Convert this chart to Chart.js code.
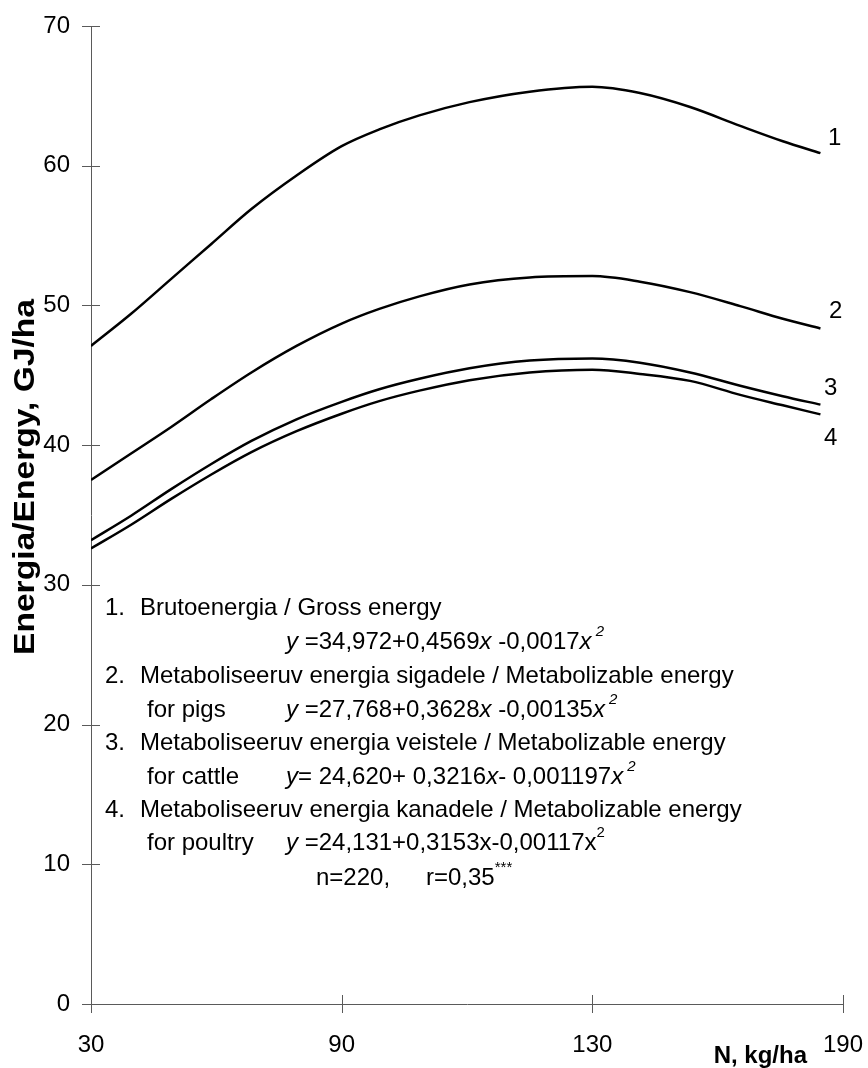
<!DOCTYPE html>
<html>
<head>
<meta charset="utf-8">
<title>Energia / Energy vs N</title>
<script src="https://cdn.jsdelivr.net/npm/chart.js@4.4.1/dist/chart.umd.min.js"></script>
<style>
  html, body { margin: 0; padding: 0; background: #fff; }
  canvas { display: block; }
</style>
</head>
<body>
<canvas id="energyChart" width="868" height="1068"></canvas>
<script>
// x axis: four evenly spaced ticks, the curves are placed by position along the axis (0..3)
const xTickLabels = ['30', '90', '130', '190'];
const xPos = [0, 0.16, 0.32, 0.48, 0.64, 0.82, 1.0, 1.15, 1.31, 1.51, 1.75, 2.0, 2.19, 2.39, 2.59, 2.76, 2.91];

// energy, GJ/ha
const grossEnergy = [47.1, 49.4, 51.9, 54.4, 56.9, 59.3, 61.4, 62.6, 63.6, 64.55, 65.3, 65.65, 65.2, 64.2, 62.85, 61.75, 60.9];
const mePigs      = [37.5, 39.4, 41.3, 43.3, 45.2, 47.1, 48.7, 49.75, 50.65, 51.5, 52.0, 52.1, 51.7, 50.95, 49.95, 49.05, 48.35];
const meCattle    = [33.2, 34.95, 36.85, 38.65, 40.3, 41.85, 43.1, 44.0, 44.75, 45.5, 46.05, 46.2, 45.9, 45.2, 44.25, 43.5, 42.9];
const mePoultry   = [32.6, 34.3, 36.15, 37.9, 39.5, 41.0, 42.25, 43.15, 43.9, 44.65, 45.2, 45.4, 45.1, 44.6, 43.6, 42.85, 42.2];

const seriesNames = ['1', '2', '3', '4'];
const yTicks = [0, 10, 20, 30, 40, 50, 60, 70];

const FONT = '"Liberation Sans", Arial, Helvetica, sans-serif';
const AXIS_COLOR = '#5a5a5a';

function toPoints(values) {
  return values.map((v, i) => ({ x: xPos[i], y: v }));
}

// curve number labels at the right end of the lines
const curveLabels = [
  { text: '1', x: 835, y: 138 },
  { text: '2', x: 836, y: 311 },
  { text: '3', x: 831, y: 388 },
  { text: '4', x: 831, y: 438 }
];

// legend / equation block, runs: [text, italic, superscript]
const noteLines = [
  { x: 105, y: 608, runs: [['1.', 0, 0]], x2: 140, runs2: [['Brutoenergia / Gross energy', 0, 0]] },
  { x: 286, y: 642, runs: [['y ', 1, 0], ['=34,972+0,4569', 0, 0], ['x', 1, 0], [' -0,0017', 0, 0], ['x', 1, 0], [' 2', 1, 1]] },
  { x: 105, y: 676, runs: [['2.', 0, 0]], x2: 140, runs2: [['Metaboliseeruv energia sigadele / Metabolizable energy', 0, 0]] },
  { x: 147, y: 710, runs: [['for pigs', 0, 0]], x2: 286, runs2: [['y ', 1, 0], ['=27,768+0,3628', 0, 0], ['x', 1, 0], [' -0,00135', 0, 0], ['x', 1, 0], [' 2', 1, 1]] },
  { x: 105, y: 743, runs: [['3.', 0, 0]], x2: 140, runs2: [['Metaboliseeruv energia veistele / Metabolizable energy', 0, 0]] },
  { x: 147, y: 777, runs: [['for cattle', 0, 0]], x2: 286, runs2: [['y', 1, 0], ['= 24,620+ 0,3216', 0, 0], ['x', 1, 0], ['- 0,001197', 0, 0], ['x', 1, 0], [' 2', 1, 1]] },
  { x: 105, y: 810, runs: [['4.', 0, 0]], x2: 140, runs2: [['Metaboliseeruv energia kanadele / Metabolizable energy', 0, 0]] },
  { x: 147, y: 843, runs: [['for poultry', 0, 0]], x2: 286, runs2: [['y ', 1, 0], ['=24,131+0,3153x-0,00117x', 0, 0], ['2', 0, 1]] },
  { x: 316, y: 878, runs: [['n=220,', 0, 0]], x2: 426, runs2: [['r=0,35', 0, 0], ['***', 0, 1]] }
];

function drawRuns(ctx, x, y, runs) {
  let cx = x;
  runs.forEach(([t, italic, sup]) => {
    const size = sup ? 15 : 24;
    ctx.font = (italic ? 'italic ' : '') + size + 'px ' + FONT;
    ctx.fillText(t, cx, sup ? y - 10 : y);
    cx += ctx.measureText(t).width;
  });
}

const decorPlugin = {
  id: 'decor',
  afterDraw(chart) {
    const ctx = chart.ctx;
    const xs = chart.scales.x;
    const ys = chart.scales.y;
    const area = chart.chartArea;

    ctx.save();
    // tick marks crossing the axes
    ctx.strokeStyle = AXIS_COLOR;
    ctx.lineWidth = 1;
    ys.ticks.forEach((t, i) => {
      const py = Math.round(ys.getPixelForTick(i)) + 0.5;
      ctx.beginPath();
      ctx.moveTo(area.left - 9, py);
      ctx.lineTo(area.left + 9, py);
      ctx.stroke();
    });
    xs.ticks.forEach((t, i) => {
      const px = Math.round(xs.getPixelForTick(i)) + 0.5;
      ctx.beginPath();
      ctx.moveTo(px, area.bottom - 9);
      ctx.lineTo(px, area.bottom + 9);
      ctx.stroke();
    });

    ctx.fillStyle = '#000';
    ctx.textBaseline = 'middle';
    ctx.textAlign = 'left';

    // curve numbers
    ctx.font = '24px ' + FONT;
    curveLabels.forEach(l => ctx.fillText(l.text, l.x - 7, l.y));

    // equations block
    noteLines.forEach(line => {
      drawRuns(ctx, line.x, line.y, line.runs);
      if (line.runs2) drawRuns(ctx, line.x2, line.y, line.runs2);
    });

    // axis titles
    ctx.font = 'bold 24px ' + FONT;
    ctx.textAlign = 'right';
    ctx.fillText('N, kg/ha', 807, 1056);

    // y title is a bit longer than plain bold text in the original
    ctx.font = 'bold 30px ' + FONT;
    ctx.translate(34, 477);
    ctx.rotate(-Math.PI / 2);
    ctx.scale(1.12, 1);
    ctx.textAlign = 'center';
    ctx.textBaseline = 'alphabetic';
    ctx.fillText('Energia/Energy, GJ/ha', 0, 0);
    ctx.restore();
  }
};

const datasets = [grossEnergy, mePigs, meCattle, mePoultry].map((vals, i) => ({
  label: seriesNames[i],
  data: toPoints(vals),
  borderColor: '#000',
  borderWidth: 2.5,
  pointRadius: 0,
  fill: false,
  cubicInterpolationMode: 'monotone'
}));

new Chart(document.getElementById('energyChart'), {
  type: 'line',
  data: { datasets },
  options: {
    responsive: false,
    devicePixelRatio: 1,
    animation: false,
    layout: { autoPadding: false, padding: { top: 26, right: 25, left: 0, bottom: 0 } },
    plugins: {
      legend: { display: false },
      tooltip: { enabled: false }
    },
    scales: {
      x: {
        type: 'linear',
        min: 0,
        max: 3,
        // fixed band height, and no extra room for the end labels
        afterFit: s => { s.height = 64; s.paddingLeft = 0; s.paddingRight = 0; },
        afterBuildTicks: s => { s.ticks = xTickLabels.map((_, i) => ({ value: i })); },
        grid: { display: false, drawTicks: false },
        border: { display: true, color: AXIS_COLOR, width: 1 },
        ticks: {
          color: '#000',
          padding: 27,
          maxRotation: 0,
          font: { family: FONT, size: 24 },
          callback: v => xTickLabels[v]
        }
      },
      y: {
        min: 0,
        max: 70,
        afterFit: s => { s.width = 91; s.paddingTop = 0; s.paddingBottom = 0; },
        afterBuildTicks: s => { s.ticks = yTicks.map(v => ({ value: v })); },
        grid: { display: false, drawTicks: false },
        border: { display: true, color: AXIS_COLOR, width: 1 },
        ticks: {
          color: '#000',
          padding: 21,
          font: { family: FONT, size: 24 }
        }
      }
    }
  },
  plugins: [decorPlugin]
});
</script>
</body>
</html>
